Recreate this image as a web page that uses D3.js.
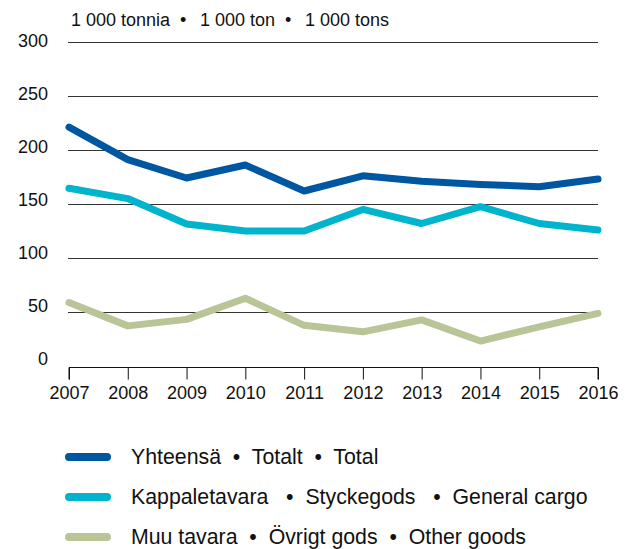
<!DOCTYPE html>
<html>
<head>
<meta charset="utf-8">
<script src="https://cdn.jsdelivr.net/npm/d3@7"></script>
<style>
  body { margin: 0; background: #fff; }
  svg { display: block; font-family: "Liberation Sans", Arial, sans-serif; }
</style>
</head>
<body>
<svg id="chart" width="629" height="549"></svg>
<script>
const years = [2007, 2008, 2009, 2010, 2011, 2012, 2013, 2014, 2015, 2016];
const total = [221, 191, 174, 186, 162, 176, 171, 168, 166, 173];
const generalCargo = [164.5, 155, 131.5, 125, 125, 145, 132, 147.5, 132, 126];
const otherGoods = [59, 37.5, 43.5, 63, 38, 32, 43, 23.5, 36.5, 49];
const yTicks = [0, 50, 100, 150, 200, 250, 300];
const unitLabel = "1 000 tonnia  •\u2009  1 000 ton  •\u2009  1 000 tons";
const seriesNames = [
  "Yhteensä  •  Totalt  •  Total",
  "Kappaletavara   •  Styckegods   •  General cargo",
  "Muu tavara  •  Övrigt gods  •  Other goods"
];
const seriesColors = ["#0057a1", "#00b4cd", "#b9c497"];

const series = [total, generalCargo, otherGoods];

const svg = d3.select("#chart");
const x = d3.scaleLinear().domain([2007, 2016]).range([69, 598]);
const y = d3.scaleLinear().domain([0, 300]).range([366.5, 41.5]);
const yLab = d3.scaleLinear().domain([0, 300]).range([359, 41]);

// unit title
svg.append("text").attr("x", 71).attr("y", 20).attr("dy", "0.35em")
  .attr("font-size", 18).attr("fill", "#111").style("white-space", "pre")
  .text(unitLabel);

// gridlines
svg.append("g").selectAll("line").data(yTicks.filter(d => d > 0)).join("line")
  .attr("x1", 68).attr("x2", 598)
  .attr("y1", d => Math.round(y(d)) + 0.5).attr("y2", d => Math.round(y(d)) + 0.5)
  .attr("stroke", "#333").attr("stroke-width", 1);

// y labels
svg.append("g").selectAll("text").data(yTicks).join("text")
  .attr("x", 48).attr("y", d => yLab(d)).attr("dy", "0.35em")
  .attr("text-anchor", "end").attr("font-size", 18).attr("fill", "#111")
  .text(d => d);

// x axis
const xAxis = d3.axisBottom(x).tickValues(years).tickFormat(d3.format("d"))
  .tickSize(12).tickPadding(7);
const gx = svg.append("g").attr("transform", `translate(0,${Math.round(y(0)) + 0.5})`).call(xAxis);
gx.select(".domain").attr("stroke", "#111").attr("d", `M${x(2007)},12V0H${x(2016)}V12`);
gx.selectAll(".tick line").attr("stroke", "#111");
gx.selectAll(".tick text").attr("font-size", 18).attr("fill", "#111")
  .attr("font-family", "Liberation Sans, Arial, sans-serif");

// lines
const line = d3.line().x((d, i) => x(years[i])).y(d => y(d));
svg.append("g").selectAll("path").data(series.slice().reverse()).join("path")
  .attr("d", d => line(d))
  .attr("fill", "none")
  .attr("stroke", (d, i) => seriesColors[series.length - 1 - i])
  .attr("stroke-width", 7)
  .attr("stroke-linecap", "round")
  .attr("stroke-linejoin", "round");

// legend
const legendY = [457, 497, 537];
const lg = svg.append("g").selectAll("g").data(seriesNames).join("g")
  .attr("transform", (d, i) => `translate(0,${legendY[i]})`);
lg.append("line").attr("x1", 69).attr("x2", 107).attr("y1", 0).attr("y2", 0)
  .attr("stroke", (d, i) => seriesColors[i]).attr("stroke-width", 8)
  .attr("stroke-linecap", "round");
lg.append("text").attr("x", 131).attr("y", 0).attr("dy", "0.35em")
  .attr("font-size", 21.3).attr("fill", "#111").style("white-space", "pre")
  .text(d => d);
</script>
</body>
</html>
